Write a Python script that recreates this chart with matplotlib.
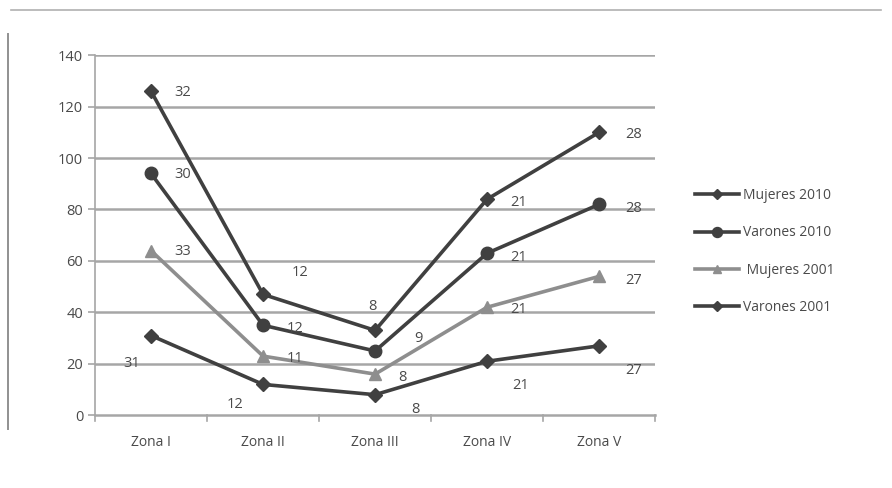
import numpy as np
import matplotlib
matplotlib.use("Agg")
import matplotlib.pyplot as plt
from matplotlib.lines import Line2D

# ── Datos ─────────────────────────────────────────────────────────────────────
zonas = ["Zona I", "Zona II", "Zona III", "Zona IV", "Zona V"]
varones_2001 = [31, 12, 8, 21, 27]
mujeres_2001 = [33, 11, 8, 21, 27]
varones_2010 = [30, 12, 9, 21, 28]
mujeres_2010 = [32, 12, 8, 21, 28]
y_ticks = [0, 20, 40, 60, 80, 100, 120, 140]

# ── Estilo ────────────────────────────────────────────────────────────────────
DARK = "#404040"
LIGHT = "#8e8e8e"
GRID = "#a6a6a6"
TEXT = "#4a4a4a"
FONT = ["Open Sans", "DejaVu Sans"]

# orden de apilado (abajo -> arriba)
series = [
    ("Varones 2001", varones_2001, DARK, "D", 7),
    ("Mujeres 2001", mujeres_2001, LIGHT, "^", 8),
    ("Varones 2010", varones_2010, DARK, "o", 9),
    ("Mujeres 2010", mujeres_2010, DARK, "D", 7),
]

# desplazamientos de las etiquetas (px) por serie y zona
offsets = {
    "Varones 2001": [(-19, -28), (-28, -20), (40, -15), (34, -24), (34, -25)],
    "Mujeres 2001": [(32, -1), (32, -2), (27, -3), (32, -2), (34, -4)],
    "Varones 2010": [(32, -1), (32, -3), (43, 12), (32, -4), (34, -4)],
    "Mujeres 2010": [(32, -1), (37, 22), (-3, 24), (32, -3), (34, -2)],
}

plt.rcParams["font.family"] = FONT

fig = plt.figure(figsize=(8.92, 4.88), dpi=100)
fig.patch.set_facecolor("white")
ax = fig.add_axes([0.1065, 0.149, 0.628, 0.738])

x = np.arange(len(zonas))
acumulado = np.cumsum([s[1] for s in series], axis=0)

handles = {}
for (nombre, valores, color, marker, ms), ys in zip(series, acumulado):
    (ln,) = ax.plot(x, ys, color=color, lw=2.6, marker=marker, ms=ms,
                    markeredgecolor=color, zorder=3, solid_joinstyle="miter")
    handles[nombre] = ln
    for xi, yi, v, (dx, dy) in zip(x, ys, valores, offsets[nombre]):
        ax.annotate(str(v), xy=(xi, yi), xytext=(dx * 0.72, dy * 0.72),
                    textcoords="offset points", ha="center", va="center",
                    fontsize=10.5, color=TEXT, zorder=4)

ax.set_xlim(-0.5, len(zonas) - 0.5)
ax.set_ylim(0, 140)
ax.set_yticks(y_ticks)
ax.set_xticks(x)
ax.set_xticklabels(zonas, fontsize=10, color=TEXT)
ax.tick_params(axis="y", labelsize=10.5, labelcolor=TEXT, length=5, color=GRID, width=1.2)
ax.tick_params(axis="x", length=0, pad=14)
for b in np.arange(len(zonas) + 1) - 0.5:
    ax.plot([b, b], [0, -2.2], color=GRID, lw=1.2, clip_on=False, zorder=2)

for t in y_ticks[1:]:
    ax.axhline(t, color=GRID, lw=1.8, zorder=1)
for side in ("top", "right"):
    ax.spines[side].set_visible(False)
ax.spines["left"].set_color(GRID)
ax.spines["left"].set_linewidth(1.2)
ax.spines["bottom"].set_color(GRID)
ax.spines["bottom"].set_linewidth(1.8)

# leyenda
leg_names = ["Mujeres 2010", "Varones 2010", "Mujeres 2001", "Varones 2001"]
leg_handles = []
for n in leg_names:
    h = handles[n]
    leg_handles.append(Line2D([], [], color=h.get_color(), lw=2.6,
                              marker=h.get_marker(), ms=h.get_markersize() * 0.8,
                              markeredgecolor=h.get_color()))
leg_labels = ["Mujeres 2010", "Varones 2010", " Mujeres 2001", "Varones 2001"]
fig.legend(leg_handles, leg_labels, loc="upper left", bbox_to_anchor=(0.765, 0.64),
           frameon=False, fontsize=10, labelcolor=TEXT, handlelength=3.2,
           handletextpad=0.3, labelspacing=1.6)

# marco de la página
fig.add_artist(Line2D([0.012, 0.988], [0.979, 0.979], color="#b0b0b0", lw=1.2))
fig.add_artist(Line2D([0.009, 0.009], [0.12, 0.93], color="#909090", lw=1.4))

fig.savefig("out.png", dpi=100, facecolor="white")
